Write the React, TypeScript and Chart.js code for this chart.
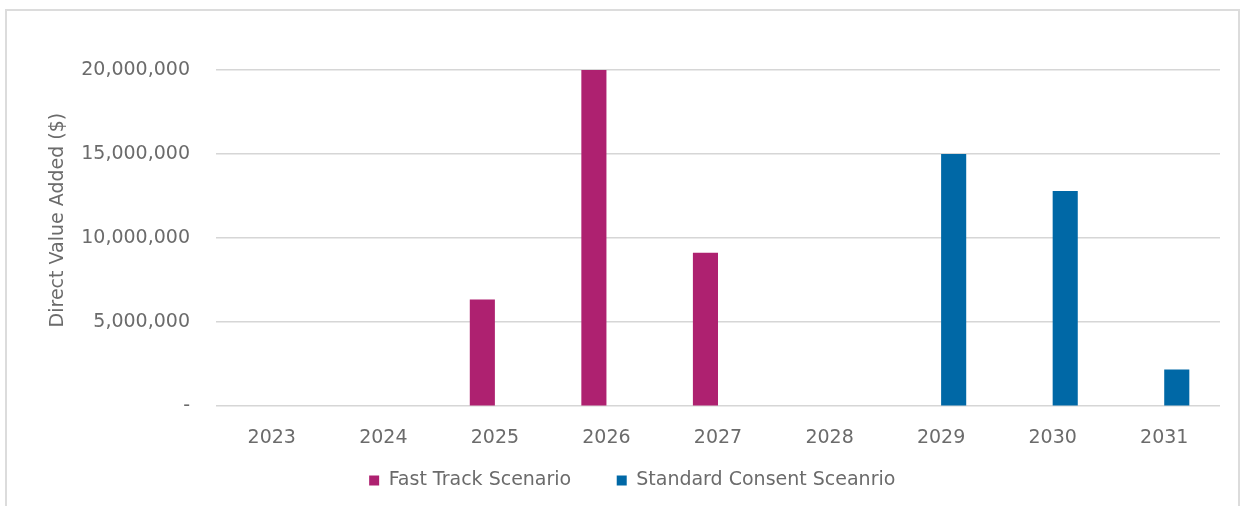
import React, { useEffect, useRef } from 'react';
import { Chart, registerables } from 'chart.js';

Chart.register(...registerables);

const years = ['2023', '2024', '2025', '2026', '2027', '2028', '2029', '2030', '2031'];
const fastTrack = [0, 0, 6350000, 20000000, 9130000, 0, 0, 0, 0];
const standardConsent = [0, 0, 0, 0, 0, 0, 15000000, 12800000, 2180000];
const seriesNames = ['Fast Track Scenario', 'Standard Consent Sceanrio'];
const axisTitle = 'Direct Value Added ($)';

const PINK = '#AE2170';
const BLUE = '#0068A6';
const TEXT = '#6b6b6b';
const FONT = 'DejaVu Sans';

const yTitlePlugin = {
  id: 'yTitle',
  afterDraw(chart: any) {
    const ctx = chart.ctx;
    const area = chart.chartArea;
    ctx.save();
    ctx.translate(58, (area.top + area.bottom) / 2 - 18);
    ctx.rotate(-Math.PI / 2);
    ctx.fillStyle = TEXT;
    ctx.font = `19px "${FONT}"`;
    ctx.textAlign = 'center';
    ctx.textBaseline = 'middle';
    ctx.fillText(axisTitle, 0, 0);
    ctx.restore();
  },
};

export default function App() {
  const ref = useRef<HTMLCanvasElement | null>(null);

  useEffect(() => {
    if (!ref.current) return;
    const spacer = () => ({
      text: '',
      fillStyle: 'rgba(0,0,0,0)',
      strokeStyle: 'rgba(0,0,0,0)',
      lineWidth: 0,
      hidden: false,
      datasetIndex: -1,
    });
    const chart = new Chart(ref.current, {
      type: 'bar',
      data: {
        labels: years,
        datasets: [
          { label: seriesNames[0], data: fastTrack, backgroundColor: PINK, borderWidth: 0 },
          { label: seriesNames[1], data: standardConsent, backgroundColor: BLUE, borderWidth: 0 },
        ],
      },
      plugins: [yTitlePlugin],
      options: {
        responsive: false,
        animation: false,
        devicePixelRatio: 1,
        datasets: { bar: { categoryPercentage: 0.45, barPercentage: 1 } },
        layout: { padding: { top: 70, right: 25, left: 12, bottom: 6 } },
        plugins: {
          legend: {
            position: 'bottom',
            labels: {
              boxWidth: 10,
              boxHeight: 10,
              padding: 13,
              color: TEXT,
              font: { family: FONT, size: 19 },
              generateLabels: (c: any) => {
                const items = (Chart as any).defaults.plugins.legend.labels.generateLabels(c);
                return [spacer(), items[0], spacer(), items[1]];
              },
            },
          },
          tooltip: { enabled: false },
        },
        scales: {
          x: {
            afterFit: (scale: any) => {
              scale.height = scale.height - 11;
            },
            grid: { display: false, drawTicks: false },
            border: { display: false },
            ticks: { color: TEXT, padding: 20, font: { family: FONT, size: 19 } },
          },
          y: {
            min: 0,
            max: 20000000,
            afterFit: (scale: any) => {
              scale.width = 204;
            },
            grid: { color: '#d6d6d6', lineWidth: 1.5, drawTicks: false },
            border: { display: false },
            ticks: {
              stepSize: 5000000,
              padding: 26,
              color: TEXT,
              font: { family: FONT, size: 19 },
              callback: (v: any) => (Number(v) === 0 ? '-' : Number(v).toLocaleString('en-US')),
            },
            title: { display: false, text: axisTitle },
          },
        },
      },
    });
    return () => chart.destroy();
  }, []);

  return (
    <div style={{ position: 'absolute', left: 0, top: 0, width: 1245, height: 506, background: '#fff', overflow: 'hidden' }}>
      <div
        style={{
          position: 'absolute',
          left: 5,
          top: 9,
          width: 1235,
          height: 520,
          border: '2px solid #dcdcdc',
          boxSizing: 'border-box',
        }}
      />
      <canvas ref={ref} width={1245} height={506} style={{ position: 'absolute', left: 0, top: 0 }} />
    </div>
  );
}
